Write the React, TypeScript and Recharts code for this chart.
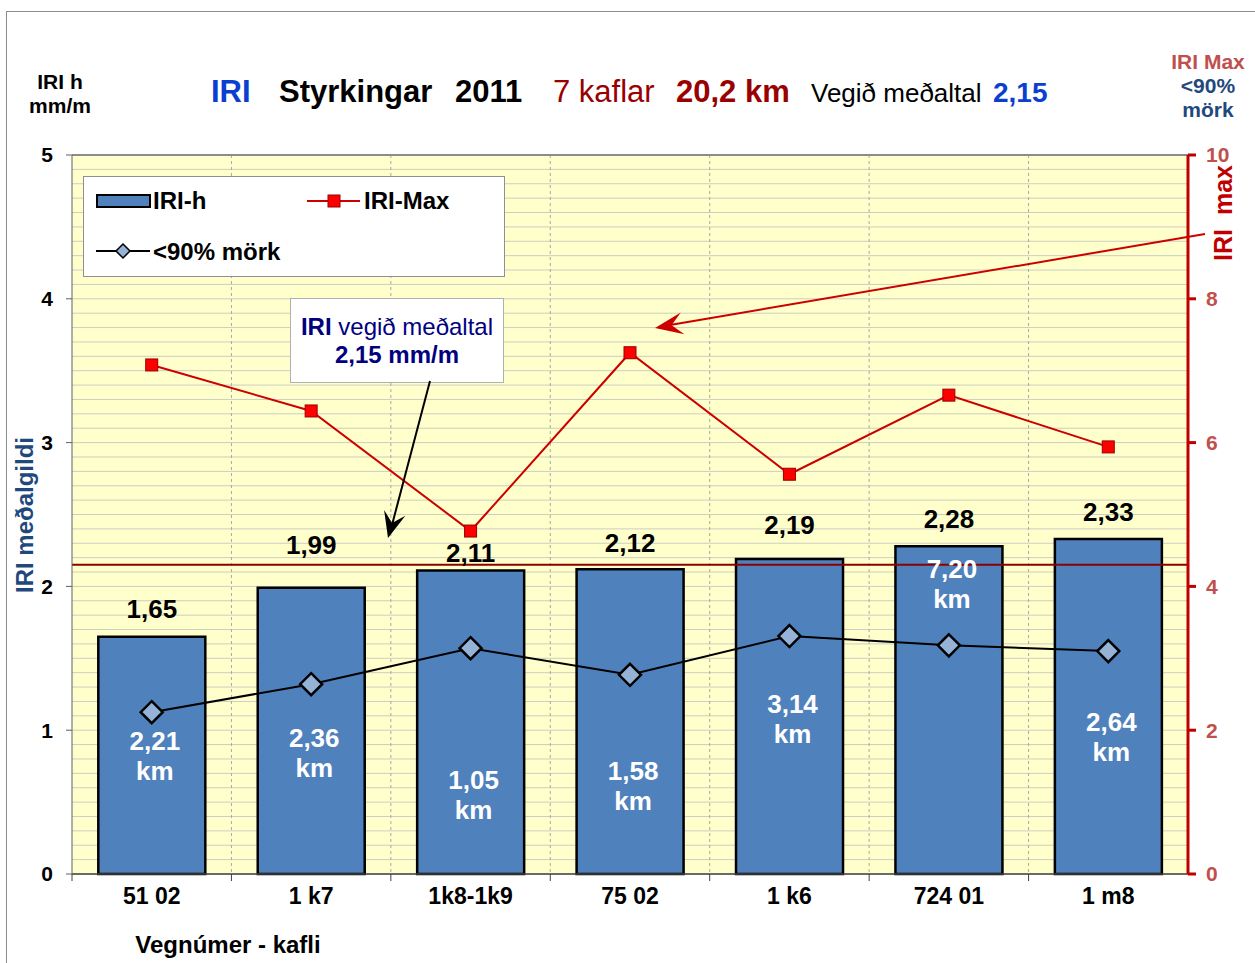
import React from "react";
import {
  ComposedChart,
  Bar,
  Line,
  XAxis,
  YAxis,
  CartesianGrid,
  ReferenceLine,
  LabelList,
  Legend,
} from "recharts";

const FONT = "'Liberation Sans', Arial, sans-serif";

const categories = ["51 02", "1 k7", "1k8-1k9", "75 02", "1 k6", "724 01", "1 m8"];
const iriH = [1.65, 1.99, 2.11, 2.12, 2.19, 2.28, 2.33];
const iriMax = [7.08, 6.44, 4.77, 7.25, 5.56, 6.66, 5.94];
const mork90 = [2.25, 2.64, 3.14, 2.77, 3.31, 3.18, 3.1];
const lengthKm = ["2,21", "2,36", "1,05", "1,58", "3,14", "7,20", "2,64"];
// where the labels sit, in left-axis units
const valueLabelAt = [1.84, 2.29, 2.23, 2.3, 2.43, 2.47, 2.52];
const kmLabelAt = [0.82, 0.84, 0.55, 0.61, 1.08, 2.02, 0.95];
const leftTicks = [0, 1, 2, 3, 4, 5];
const rightTicks = [0, 2, 4, 6, 8, 10];
const weightedMean = 2.15;

const data = categories.map((name, i) => ({
  name,
  iriH: iriH[i],
  iriMax: iriMax[i],
  mork90: mork90[i],
  km: lengthKm[i],
}));

const comma = (v: number) => v.toFixed(2).replace(".", ",");

function SquareDot(props: any) {
  const { cx, cy, index } = props;
  if (cx == null || cy == null) return <g key={index} />;
  return <rect key={index} x={cx - 6} y={cy - 6} width={12} height={12} fill="#FF0000" stroke="#990000" strokeWidth={1} />;
}

function DiamondDot(props: any) {
  const { cx, cy, index } = props;
  if (cx == null || cy == null) return <g key={index} />;
  const r = 11;
  return (
    <path
      key={index}
      d={`M${cx},${cy - r}L${cx + r},${cy}L${cx},${cy + r}L${cx - r},${cy}Z`}
      fill="#95B3D7"
      stroke="#000"
      strokeWidth={2.5}
    />
  );
}

// y pixel of a left-axis value, from the bar's own geometry
const yOf = (p: any, val: number) => p.y + p.height - (val / iriH[p.index]) * p.height;

function ValueLabel(props: any) {
  const cx = props.x + props.width / 2;
  return (
    <text x={cx} y={yOf(props, valueLabelAt[props.index]) + 9} textAnchor="middle" fill="#000" fontWeight="bold" fontSize={26} fontFamily={FONT}>
      {comma(iriH[props.index])}
    </text>
  );
}

function KmLabel(props: any) {
  const cy = yOf(props, kmLabelAt[props.index]);
  const cx = props.x + props.width / 2 + 3;
  return (
    <text x={cx} textAnchor="middle" fill="#fff" fontWeight="bold" fontSize={26} fontFamily={FONT}>
      <tspan x={cx} y={cy - 6}>{lengthKm[props.index]}</tspan>
      <tspan x={cx} y={cy + 24}>km</tspan>
    </text>
  );
}

function XTick(props: any) {
  const { x, y, payload } = props;
  const half = payload?.offset;
  return (
    <g>
      {typeof half === "number" && half > 0 && (
        <line x1={x - half} x2={x - half} y1={874} y2={881} stroke="#404040" />
      )}
      <text x={x} y={y + 30} textAnchor="middle" fontWeight="bold" fontSize={23} fontFamily={FONT} fill="#000">
        {payload.value}
      </text>
    </g>
  );
}

function LegendBox() {
  const txt = { fontFamily: FONT, fontWeight: "bold" as const, fontSize: 24, fill: "#000" };
  return (
    <svg width={423} height={102} style={{ display: "block" }}>
      <rect x={0.5} y={0.5} width={421} height={100} fill="#fff" stroke="#909090" />
      <rect x={14} y={19} width={53} height={12} fill="#4F81BD" stroke="#000" strokeWidth={2} />
      <text x={70} y={33} {...txt}>IRI-h</text>
      <line x1={224} x2={277} y1={25} y2={25} stroke="#CC0000" strokeWidth={2} />
      <rect x={245} y={19} width={12} height={12} fill="#FF0000" stroke="#990000" />
      <text x={281} y={33} {...txt}>IRI-Max</text>
      <line x1={13} x2={67} y1={75} y2={75} stroke="#000" strokeWidth={2} />
      <path d="M40,68L47,75L40,82L33,75Z" fill="#95B3D7" stroke="#000" strokeWidth={1.5} />
      <text x={70} y={84} {...txt}>&lt;90% mörk</text>
    </svg>
  );
}

function arrowHead(x1: number, y1: number, x2: number, y2: number, len: number, half: number) {
  const dx = x1 - x2;
  const dy = y1 - y2;
  const l = Math.hypot(dx, dy);
  const ux = dx / l;
  const uy = dy / l;
  const bx = x2 + ux * len;
  const by = y2 + uy * len;
  const nx = -uy;
  const ny = ux;
  const mx = x2 + ux * len * 0.6;
  const my = y2 + uy * len * 0.6;
  return `M${x2},${y2}L${bx + nx * half},${by + ny * half}L${mx},${my}L${bx - nx * half},${by - ny * half}Z`;
}

export default function App() {
  return (
    <div style={{ position: "relative", width: 1255, height: 963, background: "#fff", fontFamily: FONT }}>
      <style>{"body{margin:0}"}</style>
      <ComposedChart
        width={1255}
        height={963}
        data={data}
        margin={{ top: 155, right: 0, bottom: 49, left: 0 }}
        barCategoryGap="16.5%"
      >
        <CartesianGrid
          yAxisId="left"
          vertical={false}
          fill="#FFFFCC"
          stroke="#CDCDC2"
          horizontalCoordinatesGenerator={(p: any) => {
            const top = p?.offset?.top ?? 155;
            const h = p?.offset?.height ?? 719;
            const out: number[] = [];
            for (let i = 0; i <= 50; i++) out.push(top + (h * i) / 50);
            return out;
          }}
        />
        <CartesianGrid
          yAxisId="left"
          horizontal={false}
          stroke="#A8A8A8"
          strokeDasharray="3 3"
          verticalCoordinatesGenerator={(p: any) => {
            const left = p?.offset?.left ?? 72;
            const w = p?.offset?.width ?? 1116;
            const n = categories.length;
            const out: number[] = [];
            for (let i = 1; i < n; i++) out.push(left + (w * i) / n);
            return out;
          }}
        />
        <XAxis
          dataKey="name"
          xAxisId={0}
          height={40}
          tickLine={false}
          tickSize={0}
          tickMargin={0}
          axisLine={{ stroke: "#404040", strokeWidth: 1.5 }}
          tick={<XTick />}
          interval={0}
        />
        <YAxis
          yAxisId="left"
          orientation="left"
          width={72}
          domain={[0, 5]}
          ticks={leftTicks}
          interval={0}
          axisLine={{ stroke: "#606060" }}
          tickLine={{ stroke: "#606060" }}
          tickSize={6}
          tickMargin={13}
          tick={{ fontFamily: FONT, fontWeight: "bold", fontSize: 21, fill: "#000" }}
        />
        <YAxis
          yAxisId="right"
          orientation="right"
          width={67}
          domain={[0, 10]}
          ticks={rightTicks}
          interval={0}
          axisLine={{ stroke: "#C00000", strokeWidth: 3 }}
          tickLine={{ stroke: "#C00000", strokeWidth: 3 }}
          tickSize={8}
          tickMargin={10}
          tick={{ fontFamily: FONT, fontWeight: "bold", fontSize: 21, fill: "#C0504D" }}
        />
        <ReferenceLine yAxisId="left" y={5} stroke="#8C8C8C" strokeWidth={2} />
        <Bar
          yAxisId="left"
          dataKey="iriH"
          name="IRI-h"
          fill="#4F81BD"
          stroke="#000"
          strokeWidth={2.5}
          isAnimationActive={false}
        >
          <LabelList dataKey="iriH" content={<ValueLabel />} />
          <LabelList dataKey="km" content={<KmLabel />} />
        </Bar>
        <ReferenceLine yAxisId="left" y={weightedMean} stroke="#8B0000" strokeWidth={2} />
        <Line
          yAxisId="right"
          dataKey="iriMax"
          name="IRI-Max"
          stroke="#CC0000"
          strokeWidth={2}
          dot={<SquareDot />}
          activeDot={false}
          isAnimationActive={false}
        />
        <Line
          yAxisId="right"
          dataKey="mork90"
          name="<90% mörk"
          stroke="#000"
          strokeWidth={2}
          dot={<DiamondDot />}
          activeDot={false}
          isAnimationActive={false}
        />
        <Legend
          layout="horizontal"
          align="center"
          verticalAlign="middle"
          wrapperStyle={{ position: "absolute", left: 83, top: 176, width: 423, height: 102 }}
          content={() => <LegendBox />}
        />
      </ComposedChart>

      <svg
        width={1255}
        height={963}
        style={{ position: "absolute", left: 0, top: 0, pointerEvents: "none" }}
        fontFamily={FONT}
      >
        <rect x={6.5} y={11.5} width={1260} height={970} fill="none" stroke="#8C8C8C" />

        {/* title */}
        <text y={102} fontSize={31}>
          <tspan x={211} fill="#0B3FCF" fontWeight="bold">IRI</tspan>
          <tspan x={279} fill="#000" fontWeight="bold">Styrkingar</tspan>
          <tspan x={455} fill="#000" fontWeight="bold">2011</tspan>
          <tspan x={553} fill="#990000">7 kaflar</tspan>
          <tspan x={676} fill="#990000" fontWeight="bold">20,2 km</tspan>
          <tspan x={811} fill="#000" fontSize={26}>Vegið meðaltal</tspan>
          <tspan x={993} fill="#0B3FCF" fontWeight="bold" fontSize={28}>2,15</tspan>
        </text>

        {/* left axis unit */}
        <text textAnchor="middle" fontWeight="bold" fontSize={21} fill="#000">
          <tspan x={60} y={89}>IRI h</tspan>
          <tspan x={60} y={113}>mm/m</tspan>
        </text>

        {/* right axis unit */}
        <text textAnchor="middle" fontWeight="bold" fontSize={21}>
          <tspan x={1208} y={69} fill="#C0504D">IRI Max</tspan>
          <tspan x={1208} y={93} fill="#1F497D">&lt;90%</tspan>
          <tspan x={1208} y={117} fill="#1F497D">mörk</tspan>
        </text>

        <text
          transform="translate(33,515) rotate(-90)"
          textAnchor="middle"
          fontWeight="bold"
          fontSize={24}
          fill="#1F497D"
        >
          IRI meðalgildi
        </text>
        <text
          transform="translate(1232,213) rotate(-90)"
          textAnchor="middle"
          fontWeight="bold"
          fontSize={25}
          fill="#C00000"
          xmlSpace="preserve"
        >
          IRI  max
        </text>

        <text x={228} y={953} textAnchor="middle" fontWeight="bold" fontSize={24} fill="#000">
          Vegnúmer - kafli
        </text>

        {/* annotation box */}
        <rect x={290.5} y={298.5} width={213} height={84} fill="#fff" stroke="#B0B0B0" />
        <text textAnchor="middle" fontSize={24} fill="#000080">
          <tspan x={397} y={335}>
            <tspan fontWeight="bold">IRI</tspan> vegið meðaltal
          </tspan>
          <tspan x={397} y={363} fontWeight="bold">2,15 mm/m</tspan>
        </text>

        {/* arrows */}
        <line x1={430} y1={381} x2={392} y2={525} stroke="#000" strokeWidth={2} />
        <path d={arrowHead(430, 381, 388, 538, 26, 11)} fill="#000" />
        <line x1={1205} y1={234} x2={670} y2={325} stroke="#CC0000" strokeWidth={2} />
        <path d={arrowHead(1205, 234, 655, 328, 28, 11)} fill="#CC0000" />
      </svg>
    </div>
  );
}
